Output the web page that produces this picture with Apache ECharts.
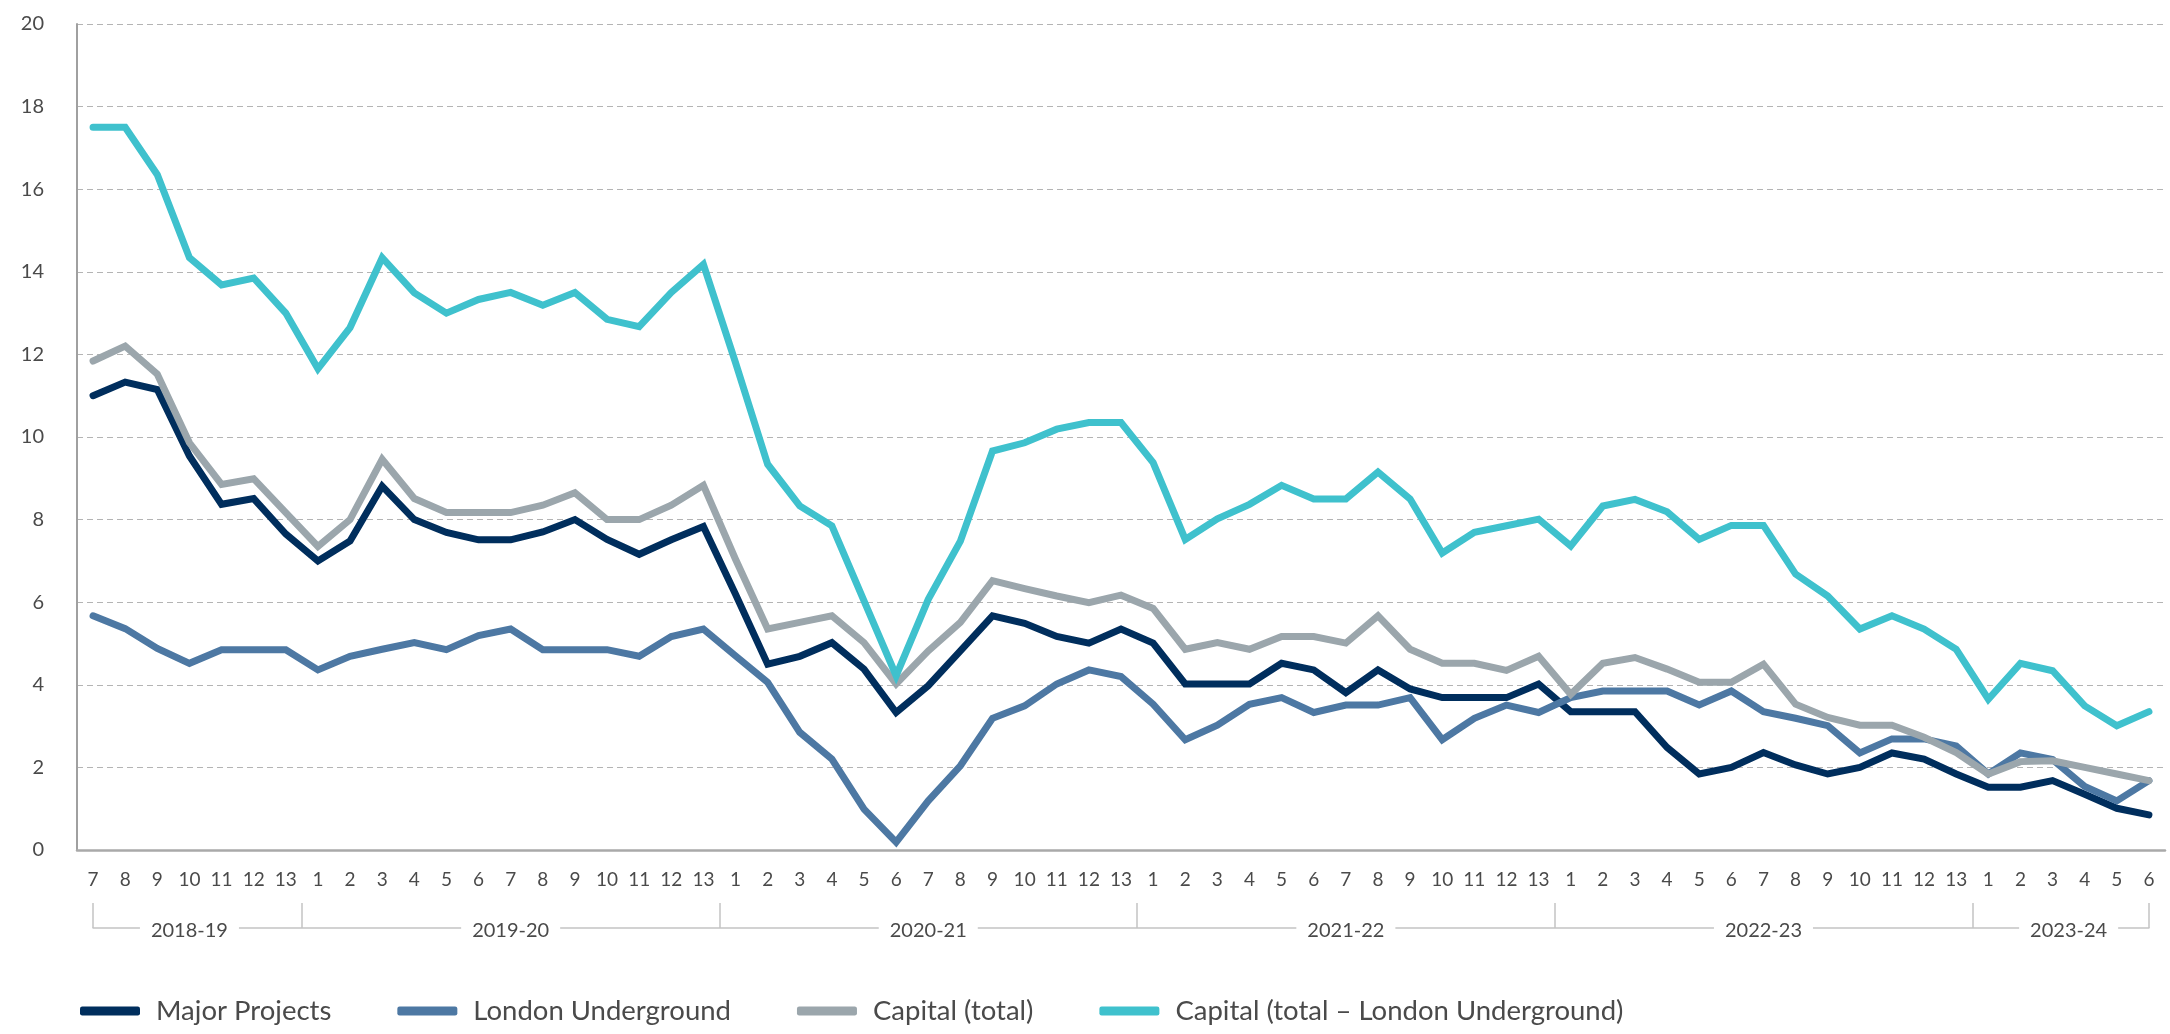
<!DOCTYPE html>
<html>
<head>
<meta charset="utf-8">
<title>Capital</title>
<script src="https://cdn.jsdelivr.net/npm/echarts@6/dist/echarts.min.js"></script>
<style>
  html, body { margin: 0; padding: 0; background: #fff; }
  #chart { width: 2170px; height: 1034px; }
</style>
</head>
<body>
<div id="chart"></div>
<script>
// periods 7 of 2018-19 through 6 of 2023-24
const periods = [
  '7', '8', '9', '10', '11', '12', '13',
  '1', '2', '3', '4', '5', '6', '7', '8', '9', '10', '11', '12', '13',
  '1', '2', '3', '4', '5', '6', '7', '8', '9', '10', '11', '12', '13',
  '1', '2', '3', '4', '5', '6', '7', '8', '9', '10', '11', '12', '13',
  '1', '2', '3', '4', '5', '6', '7', '8', '9', '10', '11', '12', '13',
  '1', '2', '3', '4', '5', '6'
]
const years = ['2018-19', '2019-20', '2020-21', '2021-22', '2022-23', '2023-24']
// index positions (in periods) for year labels and bracket ticks
const yearCentres = [3, 13, 26, 39, 52, 61.5]
const yearBreaks = [0, 6.5, 19.5, 32.5, 45.5, 58.5, 64]
const yTicks = [0, 20, 2]

const majorProjects = [
  11.0, 11.33, 11.15, 9.54, 8.37, 8.51, 7.65, 7.0, 7.48, 8.81,
  8.0, 7.69, 7.51, 7.51, 7.7, 8.0, 7.52, 7.16, 7.51, 7.83,
  6.19, 4.5, 4.69, 5.02, 4.38, 3.33, 3.98, 4.82, 5.67, 5.49,
  5.17, 5.01, 5.35, 5.01, 4.02, 4.02, 4.02, 4.52, 4.36, 3.81,
  4.36, 3.9, 3.69, 3.69, 3.69, 4.02, 3.35, 3.35, 3.35, 2.48,
  1.84, 2.0, 2.36, 2.06, 1.84, 2.0, 2.35, 2.2, 1.84, 1.52,
  1.52, 1.68, 1.35, 1.01, 0.85
]
const londonUnderground = [
  5.67, 5.36, 4.88, 4.52, 4.85, 4.85, 4.85, 4.36, 4.69, 4.86,
  5.02, 4.85, 5.19, 5.35, 4.85, 4.85, 4.85, 4.69, 5.17, 5.35,
  4.7, 4.06, 2.85, 2.2, 0.99, 0.19, 1.19, 2.04, 3.19, 3.49,
  4.02, 4.36, 4.2, 3.53, 2.67, 3.02, 3.53, 3.69, 3.33, 3.51,
  3.51, 3.69, 2.67, 3.19, 3.51, 3.33, 3.69, 3.85, 3.85, 3.85,
  3.51, 3.85, 3.35, 3.19, 3.01, 2.35, 2.69, 2.69, 2.52, 1.84,
  2.35, 2.19, 1.54, 1.19, 1.68
]
const capitalTotal = [
  11.84, 12.2, 11.52, 9.86, 8.85, 8.99, 8.17, 7.35, 8.0, 9.46,
  8.51, 8.17, 8.17, 8.17, 8.35, 8.65, 8.0, 8.0, 8.35, 8.83,
  7.04, 5.35, 5.51, 5.67, 5.02, 4.02, 4.82, 5.51, 6.52, 6.33,
  6.15, 5.99, 6.17, 5.85, 4.86, 5.02, 4.86, 5.17, 5.17, 5.01,
  5.67, 4.86, 4.52, 4.52, 4.35, 4.69, 3.77, 4.52, 4.66, 4.38,
  4.06, 4.06, 4.5, 3.53, 3.21, 3.02, 3.02, 2.73, 2.36, 1.84,
  2.14, 2.16, 2.0, 1.84, 1.68
]
const capitalExLU = [
  17.5, 17.5, 16.35, 14.34, 13.68, 13.85, 13.0, 11.65, 12.65, 14.34,
  13.49, 13.0, 13.33, 13.5, 13.19, 13.5, 12.85, 12.67, 13.5, 14.18,
  11.8, 9.34, 8.33, 7.85, 6.03, 4.22, 6.07, 7.48, 9.66, 9.86,
  10.19, 10.35, 10.35, 9.38, 7.52, 8.02, 8.37, 8.83, 8.5, 8.5,
  9.15, 8.5, 7.19, 7.69, 7.85, 8.01, 7.36, 8.33, 8.49, 8.19,
  7.52, 7.86, 7.86, 6.68, 6.15, 5.35, 5.67, 5.35, 4.86, 3.65,
  4.52, 4.34, 3.49, 3.01, 3.35
]

const textColor = '#4a4a4a'
const font = 'Lato, "Noto Sans", sans-serif'

function line (name, data, color) {
  return {
    name: name,
    type: 'line',
    data: data,
    symbol: 'none',
    xAxisIndex: 0,
    yAxisIndex: 0,
    lineStyle: { width: 7, color: color, cap: 'round', join: 'miter' },
    itemStyle: { color: color }
  }
}

const chart = echarts.init(document.getElementById('chart'))
chart.setOption({
  animation: false,
  backgroundColor: '#fff',
  textStyle: { fontFamily: font },
  grid: [
    // main plot
    { left: 77, right: 5, top: 24, bottom: 184, containLabel: false },
    // financial year brackets, same x scale from first to last period
    { left: 93.06, right: 21.06, top: 880, bottom: 106, containLabel: false }
  ],
  legend: {
    left: 75,
    top: 992,
    icon: 'roundRect',
    itemWidth: 60,
    itemHeight: 9,
    itemGap: 66,
    textStyle: { fontSize: 27.5, color: textColor, fontFamily: font, padding: [0, 0, 0, 11] },
    data: ['Major Projects', 'London Underground', 'Capital (total)', 'Capital (total – London Underground)']
  },
  xAxis: [
    {
      type: 'category',
      gridIndex: 0,
      data: periods,
      boundaryGap: true,
      axisLine: { lineStyle: { color: '#a9a9a9', width: 2.5 } },
      axisTick: { show: false },
      axisLabel: { interval: 0, margin: 20, fontSize: 19, color: textColor, fontFamily: font },
      splitLine: { show: false }
    },
    {
      type: 'value',
      gridIndex: 1,
      min: 0,
      max: 64,
      position: 'bottom',
      axisLine: { show: true, lineStyle: { color: '#c4c4c4', width: 1.5 } },
      axisTick: {
        show: true,
        inside: true,
        length: 25,
        customValues: yearBreaks,
        lineStyle: { color: '#c4c4c4', width: 1.5 }
      },
      axisLabel: {
        customValues: yearCentres,
        formatter: v => years[yearCentres.indexOf(v)],
        margin: 3,
        verticalAlign: 'middle',
        fontSize: 20,
        color: textColor,
        fontFamily: font,
        backgroundColor: '#fff',
        padding: [2, 11]
      },
      splitLine: { show: false }
    }
  ],
  yAxis: [
    {
      type: 'value',
      gridIndex: 0,
      min: yTicks[0],
      max: yTicks[1],
      interval: yTicks[2],
      axisLine: { show: true, lineStyle: { color: '#a0a0a0', width: 2 } },
      axisTick: { show: false },
      axisLabel: { margin: 33, fontSize: 20, color: textColor, fontFamily: font },
      splitLine: { lineStyle: { color: '#b4b4b4', width: 1, type: [6, 4] } }
    },
    { type: 'value', gridIndex: 1, min: 0, max: 1, show: false }
  ],
  series: [
    line('Major Projects', majorProjects, '#002e5d'),
    line('London Underground', londonUnderground, '#4d78a3'),
    line('Capital (total)', capitalTotal, '#9ba6ac'),
    line('Capital (total – London Underground)', capitalExLU, '#3fc1cd')
  ]
})
</script>
</body>
</html>
